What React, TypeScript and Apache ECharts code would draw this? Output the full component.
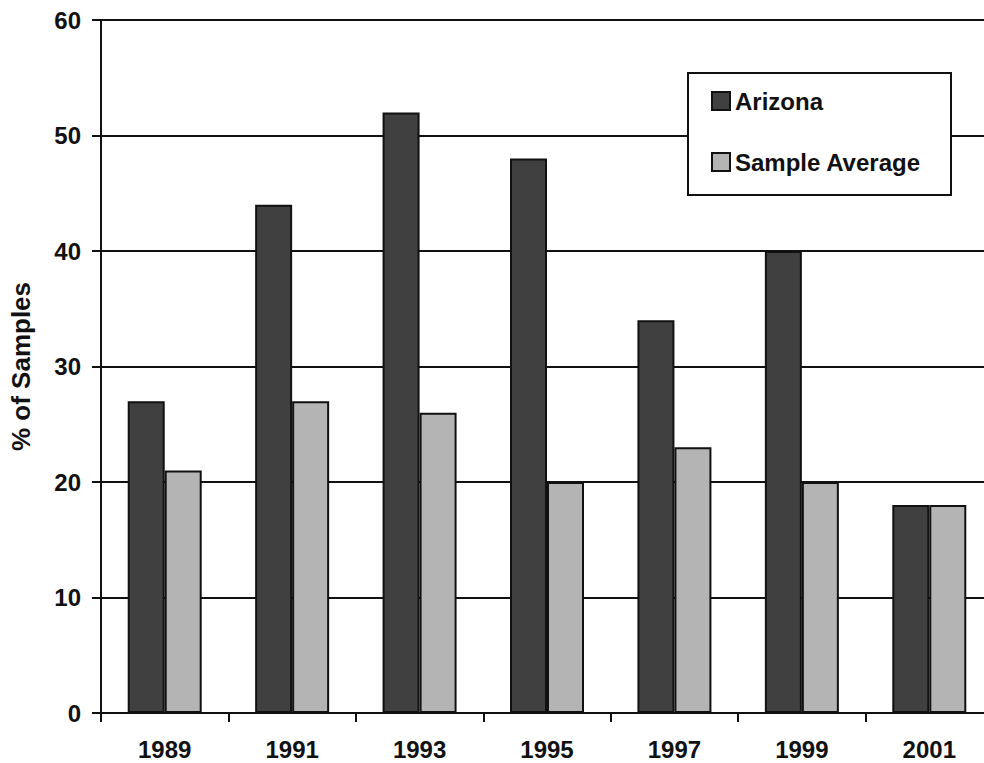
import React, { useEffect, useRef } from "react";
import * as echarts from "echarts";

const categories = ["1989", "1991", "1993", "1995", "1997", "1999", "2001"];
const arizona = [27, 44, 52, 48, 34, 40, 18];
const sampleAverage = [21, 27, 26, 20, 23, 20, 18];
const seriesNames = ["Arizona", "Sample Average"];
const yAxisName = "% of Samples";

const FONT = "'Liberation Sans', Arial, sans-serif";

export default function App() {
  const ref = useRef<HTMLDivElement>(null);
  useEffect(() => {
    const chart = echarts.init(ref.current!, null, { renderer: "svg" });
    chart.setOption({
      animation: false,
      backgroundColor: "#ffffff",
      grid: { left: 98, top: 20, bottom: 50, right: 0 },
      xAxis: {
        type: "category",
        data: categories,
        axisLine: { show: true, lineStyle: { color: "#111", width: 2 } },
        axisTick: { show: true, length: 9, alignWithLabel: false, lineStyle: { color: "#111", width: 2 } },
        axisLabel: { margin: 24, fontFamily: FONT, fontWeight: "bold", fontSize: 24, color: "#111" },
        splitLine: { show: false },
      },
      yAxis: {
        type: "value",
        min: 0,
        max: 60,
        interval: 10,
        name: yAxisName,
        nameLocation: "middle",
        nameGap: 67,
        nameRotate: 90,
        nameTextStyle: { fontFamily: FONT, fontWeight: "bold", fontSize: 26, color: "#111" },
        axisLine: { show: true, lineStyle: { color: "#111", width: 2 } },
        axisTick: { show: true, length: 9, inside: false, lineStyle: { color: "#111", width: 2 } },
        axisLabel: { margin: 20, fontFamily: FONT, fontWeight: "bold", fontSize: 24, color: "#111" },
        splitLine: { show: true, lineStyle: { color: "#111", width: 2 } },
      },
      legend: {
        data: seriesNames,
        orient: "vertical",
        left: 711,
        top: 89,
        padding: 0,
        itemWidth: 18,
        itemHeight: 18,
        itemGap: 37,
        icon: "rect",
        z: 10,
        textStyle: { fontFamily: FONT, fontWeight: "bold", fontSize: 24, color: "#111", lineHeight: 24 },
      },
      graphic: [
        {
          type: "rect",
          z: 5,
          shape: { x: 688, y: 73, width: 263, height: 122 },
          style: { fill: "#ffffff", stroke: "#111", lineWidth: 2 },
        },
      ],
      series: [
        {
          name: seriesNames[0],
          type: "bar",
          data: arizona,
          barWidth: 37,
          barGap: "0%",
          itemStyle: { color: "#404040", borderColor: "#111", borderWidth: 2 },
        },
        {
          name: seriesNames[1],
          type: "bar",
          data: sampleAverage,
          barWidth: 37,
          barGap: "0%",
          itemStyle: { color: "#b4b4b4", borderColor: "#111", borderWidth: 2 },
        },
      ],
    });
    return () => chart.dispose();
  }, []);
  return (
    <div style={{ position: "fixed", left: 0, top: 0, width: 984, height: 763, overflow: "hidden", background: "#fff" }}>
      <div ref={ref} style={{ width: 993, height: 763 }} />
    </div>
  );
}
